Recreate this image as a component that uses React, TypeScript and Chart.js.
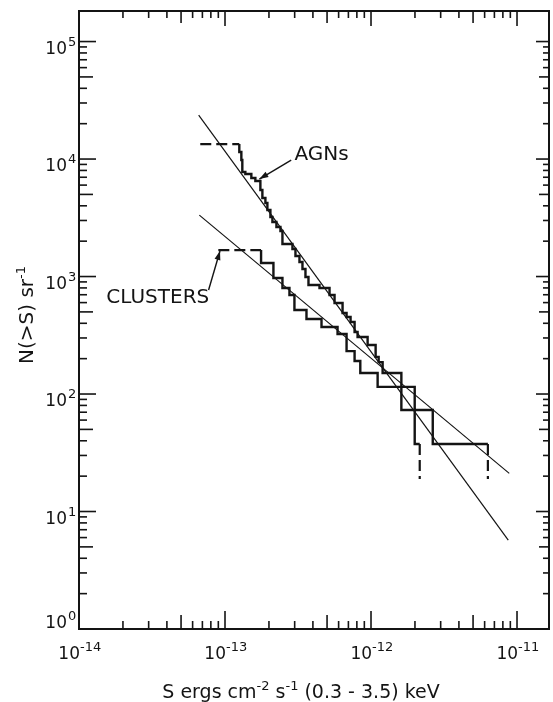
import React, { useEffect, useRef } from 'react';
import { Chart, registerables } from 'chart.js';

Chart.register(...registerables);

// ---- axes ----
const xDecades = [-14, -13, -12, -11];
const yDecades = [0, 1, 2, 3, 4, 5];
const xMin = 1e-14;
const xMax = 1.656e-11;
const yMin = 1;
const yMax = 1.82e5;

// ---- AGN cumulative counts (step function) ----
const agnFlux = [
  1.253e-13, 1.253e-13, 1.294e-13, 1.314e-13, 1.378e-13, 1.515e-13, 1.614e-13, 1.747e-13,
  1.803e-13, 1.891e-13, 1.951e-13, 2.046e-13, 2.112e-13, 2.25e-13, 2.397e-13, 2.474e-13,
  2.897e-13, 3.038e-13, 3.236e-13, 3.393e-13, 3.557e-13, 3.73e-13, 4.438e-13, 5.199e-13,
  5.627e-13, 6.385e-13, 6.801e-13, 7.244e-13, 7.718e-13, 8.091e-13, 9.478e-13, 1.0755e-12,
  1.128e-12, 1.201e-12, 1.614e-12, 1.992e-12, 2.156e-12,
];
const agnCounts = [
  13400, 11470, 9806, 7752, 7453, 6893, 6499, 5447,
  4658, 4222, 3681, 3210, 2910, 2638, 2439, 1891,
  1714, 1494, 1329, 1158, 990, 847, 798, 696,
  595, 489, 452, 410, 337, 306, 261, 207,
  187, 151, 73.1, 37.5, 37.5,
];
const agnDashTopFlux = [6.77e-14, 1.253e-13];
const agnDashTopCounts = [13400, 13400];
const agnDashEndFlux = [2.156e-12, 2.156e-12];
const agnDashEndCounts = [37.5, 18.9];

// ---- Cluster cumulative counts (step function) ----
const clusterFlux = [
  1.766e-13, 1.766e-13, 2.146e-13, 2.474e-13, 2.763e-13, 2.989e-13, 3.614e-13, 4.581e-13,
  5.9e-13, 6.801e-13, 7.718e-13, 8.445e-13, 1.11e-12, 1.992e-12, 2.648e-12, 6.316e-12,
];
const clusterCounts = [
  1681, 1303, 971, 798, 696, 519, 435, 372,
  324, 232, 191, 151, 115, 73.1, 37.5, 37.5,
];
const clusterDashTopFlux = [9.0e-14, 1.766e-13];
const clusterDashTopCounts = [1681, 1681];
const clusterDashEndFlux = [6.316e-12, 6.316e-12];
const clusterDashEndCounts = [37.5, 18.9];

// ---- power-law fits ----
const agnFitFlux = [6.6e-14, 8.71e-12];
const agnFitCounts = [23660, 5.71];
const clusterFitFlux = [6.67e-14, 8.85e-12];
const clusterFitCounts = [3334, 21.1];

const FONT = '"DejaVu Sans", sans-serif';
const INK = '#141414';

const pts = (xs: number[], ys: number[]) => xs.map((x, i) => ({ x, y: ys[i] }));

type Part = { t: string; sup?: boolean };

function drawRich(
  ctx: CanvasRenderingContext2D,
  parts: Part[],
  x: number,
  y: number,
  align: 'left' | 'right' | 'center',
  base: number,
  sup: number,
  rise: number
) {
  const widths = parts.map((p) => {
    ctx.font = `${p.sup ? sup : base}px ${FONT}`;
    return ctx.measureText(p.t).width;
  });
  const total = widths.reduce((a, b) => a + b, 0);
  let cx = align === 'left' ? x : align === 'right' ? x - total : x - total / 2;
  ctx.textAlign = 'left';
  ctx.textBaseline = 'alphabetic';
  parts.forEach((p, i) => {
    ctx.font = `${p.sup ? sup : base}px ${FONT}`;
    ctx.fillText(p.t, cx, p.sup ? y - rise : y);
    cx += widths[i];
  });
}

function arrow(ctx: CanvasRenderingContext2D, x0: number, y0: number, x1: number, y1: number) {
  ctx.beginPath();
  ctx.moveTo(x0, y0);
  ctx.lineTo(x1, y1);
  ctx.stroke();
  const ang = Math.atan2(y1 - y0, x1 - x0);
  const L = 9;
  const W = 3;
  ctx.beginPath();
  ctx.moveTo(x1, y1);
  ctx.lineTo(x1 - L * Math.cos(ang) + W * Math.sin(ang), y1 - L * Math.sin(ang) - W * Math.cos(ang));
  ctx.lineTo(x1 - L * Math.cos(ang) - W * Math.sin(ang), y1 - L * Math.sin(ang) + W * Math.cos(ang));
  ctx.closePath();
  ctx.fill();
}

const decorPlugin = {
  id: 'decor',
  afterDraw(chart: any) {
    const { ctx, chartArea: a, scales } = chart;
    const xs = scales.x;
    const ys = scales.y;
    const lmin = Math.log10(xs.min) - 1e-6;
    const lmax = Math.log10(xs.max) + 1e-6;
    const ymn = Math.log10(ys.min) - 1e-6;
    const ymx = Math.log10(ys.max) + 1e-6;
    ctx.save();
    ctx.strokeStyle = INK;
    ctx.fillStyle = INK;

    // frame
    ctx.lineWidth = 2;
    ctx.strokeRect(a.left, a.top, a.right - a.left, a.bottom - a.top);

    const seg = (x0: number, y0: number, x1: number, y1: number) => {
      ctx.beginPath();
      ctx.moveTo(x0, y0);
      ctx.lineTo(x1, y1);
      ctx.stroke();
    };

    ctx.lineWidth = 1.6;
    // x ticks (bottom + top)
    xDecades.forEach((e) => {
      for (let m = 1; m <= 9; m++) {
        const lv = e + Math.log10(m);
        if (lv < lmin || lv > lmax) continue;
        const px = xs.getPixelForValue(Math.pow(10, lv));
        const lb = m === 1 ? 18 : m === 5 ? 14 : 8;
        const lt = m === 1 ? 15 : m === 5 ? 12 : 7;
        seg(px, a.bottom, px, a.bottom - lb);
        seg(px, a.top, px, a.top + lt);
      }
    });
    // y ticks (left + right)
    yDecades.forEach((e) => {
      for (let m = 1; m <= 9; m++) {
        const lv = e + Math.log10(m);
        if (lv < ymn || lv > ymx) continue;
        const py = ys.getPixelForValue(Math.pow(10, lv));
        const ll = m === 1 ? 17 : m === 5 ? 14 : 8;
        const lr = m === 1 ? 13 : m === 5 ? 10 : 6;
        seg(a.left, py, a.left + ll, py);
        seg(a.right, py, a.right - lr, py);
      }
    });

    // x tick labels
    xDecades.forEach((e) => {
      const px = xs.getPixelForValue(Math.pow(10, e));
      drawRich(ctx, [{ t: '10' }], px + 1, 659, 'right', 17, 13, 0);
      drawRich(ctx, [{ t: String(e), sup: true }], px + 1, 659, 'left', 17, 13, 8);
    });
    // y tick labels
    yDecades.forEach((e) => {
      const py = ys.getPixelForValue(Math.pow(10, e));
      const base = Math.min(py + 12, a.bottom - 1);
      drawRich(ctx, [{ t: '10' }], 67, base, 'right', 17, 13, 0);
      drawRich(ctx, [{ t: String(e), sup: true }], 68, base, 'left', 17, 13, 8);
    });

    // axis titles
    drawRich(
      ctx,
      [{ t: 'S ergs cm' }, { t: '-2', sup: true }, { t: ' s' }, { t: '-1', sup: true }, { t: ' (0.3 - 3.5) keV' }],
      301,
      698,
      'center',
      19,
      13,
      8
    );
    ctx.save();
    ctx.translate(33, 315);
    ctx.rotate(-Math.PI / 2);
    drawRich(ctx, [{ t: 'N(>S) sr' }, { t: '-1', sup: true }], 0, 0, 'center', 20, 13, 8);
    ctx.restore();

    // annotations
    const X = (v: number) => xs.getPixelForValue(v);
    const Y = (v: number) => ys.getPixelForValue(v);
    ctx.font = `20px ${FONT}`;
    ctx.textAlign = 'left';
    ctx.textBaseline = 'middle';
    ctx.fillText('AGNs', X(2.99e-13), Y(10815));
    ctx.textAlign = 'right';
    ctx.fillText('CLUSTERS', X(7.8e-14), Y(656));
    ctx.lineWidth = 1.4;
    arrow(ctx, X(2.84e-13), Y(9806), X(1.719e-13), Y(6760));
    arrow(ctx, X(7.72e-14), Y(767), X(9.24e-14), Y(1648));

    ctx.restore();
  },
};

export default function App() {
  const ref = useRef<HTMLCanvasElement>(null);
  useEffect(() => {
    if (!ref.current) return;
    const solid = { borderColor: INK, borderWidth: 2.4, pointRadius: 0, fill: false, stepped: 'before' as const };
    const dashed = { borderColor: INK, borderWidth: 2.2, pointRadius: 0, fill: false, borderDash: [11, 5] };
    const thin = { borderColor: INK, borderWidth: 1.2, pointRadius: 0, fill: false };
    const chart = new Chart(ref.current, {
      type: 'line',
      data: {
        datasets: [
          { label: 'AGN fit', data: pts(agnFitFlux, agnFitCounts), ...thin },
          { label: 'Cluster fit', data: pts(clusterFitFlux, clusterFitCounts), ...thin },
          { label: 'AGNs', data: pts(agnFlux, agnCounts), ...solid },
          { label: 'AGNs top', data: pts(agnDashTopFlux, agnDashTopCounts), ...dashed },
          { label: 'AGNs end', data: pts(agnDashEndFlux, agnDashEndCounts), ...dashed },
          { label: 'Clusters', data: pts(clusterFlux, clusterCounts), ...solid },
          { label: 'Clusters top', data: pts(clusterDashTopFlux, clusterDashTopCounts), ...dashed },
          { label: 'Clusters end', data: pts(clusterDashEndFlux, clusterDashEndCounts), ...dashed },
        ] as any,
      },
      options: {
        responsive: false,
        maintainAspectRatio: false,
        animation: false,
        layout: { padding: { left: 79, right: 4, top: 11, bottom: 73 } },
        plugins: { legend: { display: false }, tooltip: { enabled: false } },
        elements: { line: { tension: 0 } },
        scales: {
          x: { type: 'logarithmic', min: xMin, max: xMax, display: false },
          y: { type: 'logarithmic', min: yMin, max: yMax, display: false },
        },
      },
      plugins: [decorPlugin],
    });
    return () => chart.destroy();
  }, []);
  return (
    <div style={{ position: 'fixed', left: 0, top: 0, width: 553, height: 702, background: '#fff' }}>
      <canvas ref={ref} width={553} height={702} style={{ display: 'block' }} />
    </div>
  );
}
